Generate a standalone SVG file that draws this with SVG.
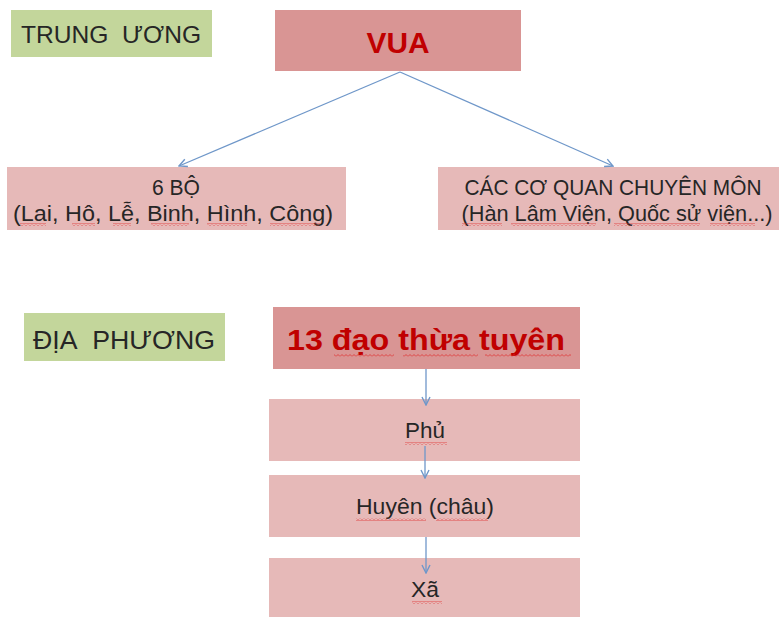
<svg xmlns="http://www.w3.org/2000/svg" width="779" height="617" viewBox="0 0 779 617">
<style>
text{font-family:"Liberation Sans","Noto Sans",sans-serif;fill:#262626;text-anchor:middle}
.lbl{font-size:24px}
.lbl2{font-size:26px}
.body{font-size:22px}
.title{font-size:30px;font-weight:bold;fill:#C00000}
.green{fill:#C3D69B}
.dark{fill:#D99594}
.light{fill:#E6B9B8}
.conn{stroke:#6F97C9;stroke-width:1.3;fill:none;marker-end:url(#arr)}
.sq{fill:url(#wavy)}
</style>
<defs>
<marker id="arr" viewBox="0 0 10 10" refX="9" refY="5" markerWidth="10" markerHeight="10" markerUnits="userSpaceOnUse" orient="auto">
<path d="M1,1 L9,5 L1,9" fill="none" stroke="#6F97C9" stroke-width="1.4"/>
</marker>
<pattern id="wavy" width="4" height="3" patternUnits="userSpaceOnUse">
<path d="M0,2.5 L2,0.5 L4,2.5" fill="none" stroke="#E03030" stroke-width="0.8"/>
</pattern>
</defs>
<rect width="779" height="617" fill="#FFFFFF"/>

<g id="trung-uong">
<rect class="green" x="11" y="10" width="201" height="47"/>
<text class="lbl" x="111" y="43" textLength="180" lengthAdjust="spacingAndGlyphs">TRUNG&#160; ƯƠNG</text>
</g>

<g id="vua">
<rect class="dark" x="275" y="10" width="246" height="61"/>
<text class="title" x="398" y="53" textLength="63" lengthAdjust="spacingAndGlyphs">VUA</text>
</g>

<g id="sau-bo">
<rect class="light" x="7" y="167" width="339" height="63"/>
<text class="body" x="176" y="195" textLength="48" lengthAdjust="spacingAndGlyphs">6 BỘ</text>
<text class="body" x="173" y="221" textLength="320" lengthAdjust="spacingAndGlyphs">(Lai, Hô, Lễ, Binh, Hình, Công)</text>
<rect class="sq" x="20" y="223" width="26" height="3"/>
<rect class="sq" x="72" y="223" width="23" height="3"/>
<rect class="sq" x="113" y="223" width="18" height="3"/>
<rect class="sq" x="151" y="223" width="38" height="3"/>
<rect class="sq" x="207" y="223" width="40" height="3"/>
<rect class="sq" x="270" y="223" width="50" height="3"/>
</g>

<g id="co-quan">
<rect class="light" x="438" y="167" width="341" height="63"/>
<text class="body" x="613" y="195" textLength="297" lengthAdjust="spacingAndGlyphs">CÁC CƠ QUAN CHUYÊN MÔN</text>
<text class="body" x="617" y="221" textLength="311" lengthAdjust="spacingAndGlyphs">(Hàn Lâm Viện, Quốc sử viện...)</text>
<rect class="sq" x="462" y="223" width="40" height="3"/>
<rect class="sq" x="511" y="223" width="85" height="3"/>
<rect class="sq" x="614" y="223" width="86" height="3"/>
<rect class="sq" x="710" y="223" width="45" height="3"/>
</g>

<g id="dia-phuong">
<rect class="green" x="24" y="313" width="201" height="48"/>
<text class="lbl2" x="124" y="349" textLength="182" lengthAdjust="spacingAndGlyphs">ĐỊA&#160; PHƯƠNG</text>
</g>

<g id="dao">
<rect class="dark" x="273" y="307" width="307" height="62"/>
<text class="title" x="426" y="350" textLength="278" lengthAdjust="spacingAndGlyphs">13 đạo thừa tuyên</text>
<rect class="sq" x="334" y="354" width="60" height="3"/>
<rect class="sq" x="403" y="354" width="75" height="3"/>
<rect class="sq" x="485" y="354" width="86" height="3"/>
</g>

<g id="phu">
<rect class="light" x="269" y="399" width="311" height="62"/>
<text class="body" x="425" y="438" textLength="40" lengthAdjust="spacingAndGlyphs">Phủ</text>
<rect class="sq" x="405" y="442" width="42" height="3"/>
</g>

<g id="huyen">
<rect class="light" x="269" y="475" width="311" height="62"/>
<text class="body" x="425" y="514" textLength="138" lengthAdjust="spacingAndGlyphs">Huyên (châu)</text>
<rect class="sq" x="356" y="518" width="70" height="3"/>
<rect class="sq" x="436" y="518" width="52" height="3"/>
</g>

<g id="xa">
<rect class="light" x="269" y="558" width="311" height="59"/>
<text class="body" x="425" y="597" textLength="28" lengthAdjust="spacingAndGlyphs">Xã</text>
<rect class="sq" x="412" y="601" width="30" height="3"/>
</g>

<g id="connectors">
<path class="conn" d="M400,72 L179,166"/>
<path class="conn" d="M400,72 L613,166"/>
<path class="conn" d="M426,369 L426,405"/>
<path class="conn" d="M425,446 L425,478"/>
<path class="conn" d="M426,537 L426,573"/>
</g>
</svg>
